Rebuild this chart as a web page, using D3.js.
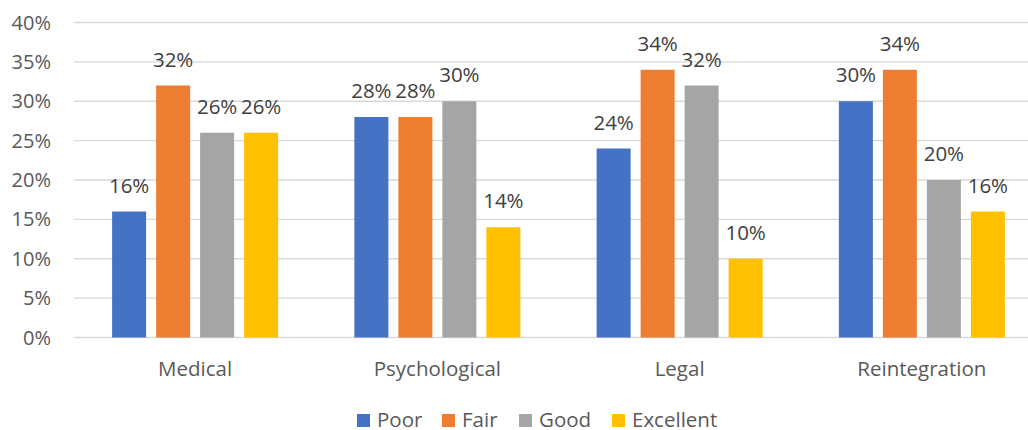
<!DOCTYPE html>
<html><head><meta charset="utf-8">
<script src="https://cdn.jsdelivr.net/npm/d3@7"></script>
<style>body{margin:0;background:#fff}svg{display:block}text{font-family:"Open Sans",sans-serif}</style>
</head><body>
<svg id="c" width="1028" height="430"></svg>
<script>
const categories = ["Medical", "Psychological", "Legal", "Reintegration"];
const seriesNames = ["Poor", "Fair", "Good", "Excellent"];
const poor = [16, 28, 24, 30];
const fair = [32, 28, 34, 34];
const good = [26, 30, 32, 20];
const excellent = [26, 14, 10, 16];
const yTicks = [0, 5, 10, 15, 20, 25, 30, 35, 40];
const colors = ["#4472C4", "#ED7D31", "#A5A5A5", "#FFC000"];
const seriesValues = [poor, fair, good, excellent];

(function () {
const svg = d3.select("#c");
const mLeft = 74, mRight = 1043, mTop = 22.5, mBottom = 337.5;
const y = d3.scaleLinear().domain([0, 40]).range([mBottom, mTop]);
const x0 = d3.scaleBand().domain(categories).range([mLeft, mRight]);
const groupW = 166;
const x1 = d3.scaleBand().domain(seriesNames).range([0, groupW]).paddingInner(10/44).paddingOuter(0);

svg.append("g").selectAll("line").data(yTicks).join("line")
  .attr("x1", mLeft).attr("x2", mRight)
  .attr("y1", d => y(d)).attr("y2", d => y(d))
  .attr("stroke", "#D9D9D9").attr("stroke-width", 1.3);

svg.append("g").selectAll("text").data(yTicks).join("text")
  .attr("x", 51).attr("y", d => y(d)).attr("dy", "0.35em")
  .attr("text-anchor", "end").attr("font-size", 20).attr("fill", "#595959")
  .text(d => d + "%");

const data = [];
categories.forEach((c, i) => seriesNames.forEach((s, j) => data.push({c, s, j, v: seriesValues[j][i]})));
const gx = c => x0(c) + (x0.bandwidth() - groupW) / 2;
svg.append("g").selectAll("rect").data(data).join("rect")
  .attr("x", d => gx(d.c) + x1(d.s)).attr("width", x1.bandwidth())
  .attr("y", d => y(d.v)).attr("height", d => y(0) - y(d.v))
  .attr("fill", d => colors[d.j]);

svg.append("g").selectAll("text").data(data).join("text")
  .attr("x", d => gx(d.c) + x1(d.s) + x1.bandwidth() / 2)
  .attr("y", d => y(d.v) - 19)
  .attr("text-anchor", "middle").attr("font-size", 20.5).attr("fill", "#404040")
  .text(d => d.v + "%");

svg.append("g").selectAll("text").data(categories).join("text")
  .attr("x", d => x0(d) + x0.bandwidth() / 2).attr("y", 376)
  .attr("text-anchor", "middle").attr("font-size", 20.5).attr("fill", "#595959")
  .text(d => d);

const legX = [357, 442, 519, 612];
const lg = svg.append("g");
seriesNames.forEach((s, j) => {
  lg.append("rect").attr("x", legX[j]).attr("y", 414).attr("width", 13).attr("height", 13).attr("fill", colors[j]);
  lg.append("text").attr("x", legX[j] + 20).attr("y", 427).attr("font-size", 20.5).attr("fill", "#595959").text(s);
});
})();
</script>
</body></html>
